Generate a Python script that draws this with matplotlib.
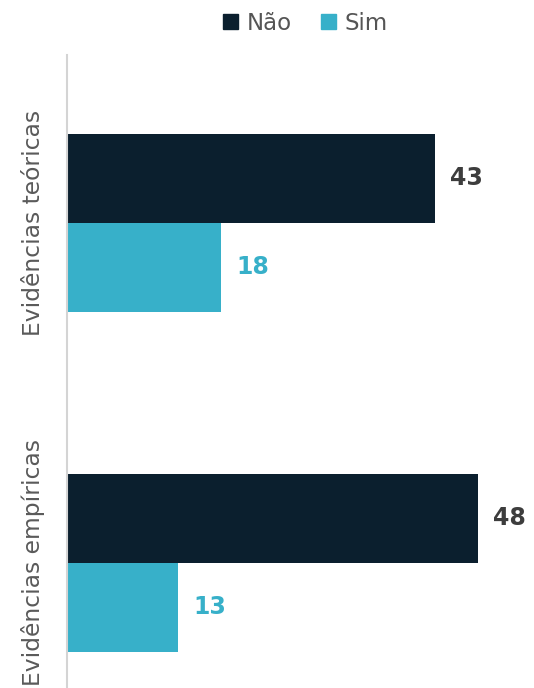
import matplotlib.pyplot as plt
import numpy as np
from matplotlib.patches import Patch

categorias = ['Evidências teóricas', 'Evidências empíricas']
nao = [43, 48]
sim = [18, 13]
series = ['Não', 'Sim']
cor_nao = '#0b1f2e'
cor_sim = '#37b0c9'

plt.rcParams['font.family'] = ['DejaVu Sans']

fig = plt.figure(figsize=(5.34, 6.88), dpi=100)
ax = fig.add_axes([0.1255, 0, 0.8745, 0.92])

y = np.arange(len(categorias))
h = 0.262
ax.barh(y - h / 2, nao, height=h, color=cor_nao)
ax.barh(y + h / 2, sim, height=h, color=cor_sim)

for i in range(len(categorias)):
    ax.text(nao[i] + 1.8, y[i] - h / 2, str(nao[i]), va='center', ha='left',
            fontsize=17, fontweight='bold', color='#3d3d3d')
    ax.text(sim[i] + 1.8, y[i] + h / 2, str(sim[i]), va='center', ha='left',
            fontsize=17, fontweight='bold', color=cor_sim)

ax.set_xlim(0, 54.6)
ax.set_ylim(1.368, -0.494)
ax.set_yticks(y)
ax.set_yticklabels(categorias, rotation=90, va='center', fontsize=16.8,
                   color='#5a5a5a')
ax.tick_params(axis='y', length=0, pad=16)
ax.set_xticks([])
for s in ['top', 'right', 'bottom']:
    ax.spines[s].set_visible(False)
ax.spines['left'].set_color('#d4d4d4')
ax.spines['left'].set_linewidth(1.5)

handles = [Patch(color=cor_nao), Patch(color=cor_sim)]
fig.legend(handles, series, loc='center', bbox_to_anchor=(0.572, 0.966), ncol=2,
           frameon=False, fontsize=16.5, handlelength=0.65, handleheight=0.65,
           handletextpad=0.35, columnspacing=1.3, labelcolor='#555555')

fig.savefig('out.png', dpi=100)
